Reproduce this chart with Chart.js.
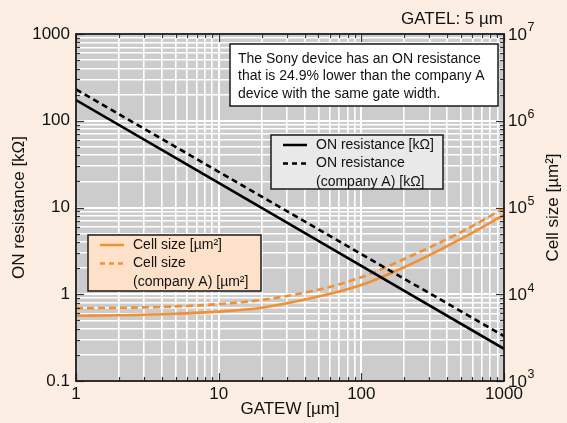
<!DOCTYPE html>
<html><head><meta charset="utf-8">
<script src="https://cdn.jsdelivr.net/npm/chart.js@4"></script>
<style>html,body{margin:0;padding:0;background:#fdeee3;} #wrap{width:567px;height:423px;position:relative;}</style>
</head><body><div id="wrap"><canvas id="c" width="567" height="423" style="width:567px;height:423px"></canvas></div>
<script>
// ---- data ----
const gateW = [1, 10, 100, 1000];
const onRes = [173, 19.2, 2.12, 0.235];
const onResA = [230, 25.8, 2.9, 0.33];
const cellW = [1, 2, 5, 10, 20, 50, 100, 200, 500, 1000];
const cellSize = [5650, 5720, 5950, 6300, 7000, 9400, 12800, 20500, 43500, 82000];
const cellSizeA = [6890, 6980, 7240, 7700, 8600, 11300, 15700, 25500, 52000, 98000];

const xTickValues = [1, 10, 100, 1000];
const xTickLabels = ['1', '10', '100', '1000'];
const leftTickValues = [0.1, 1, 10, 100, 1000];
const leftTickLabels = ['0.1', '1', '10', '100', '1000'];
const rightTickValues = [1e3, 1e4, 1e5, 1e6, 1e7];
const rightTickBase = '10';
const rightTickExps = ['3', '4', '5', '6', '7'];
const minorMults = [1, 2, 3, 4, 5, 6, 7, 8, 9];

const xTitle = 'GATEW [\u00B5m]';
const leftTitle = 'ON resistance [k\u03A9]';
const rightTitle = 'Cell size [\u00B5m\u00B2]';
const topNote = 'GATEL: 5 \u00B5m';
const noteLines = ['The Sony device has an ON resistance', 'that is 24.9% lower than the company A', 'device with the same gate width.'];
const blackLegend = [['ON resistance [k\u03A9]'], ['ON resistance', '(company A) [k\u03A9]']];
const orangeLegend = [['Cell size [\u00B5m\u00B2]'], ['Cell size', '(company A) [\u00B5m\u00B2]']];

const ORANGE = '#f39033';
const FONT = '"Liberation Sans", Arial, sans-serif';

function logTicks(majors) {
  const out = [];
  for (let i = 0; i < majors.length; i++) {
    if (i === majors.length - 1) { out.push(majors[i]); break; }
    for (const m of minorMults) out.push(majors[i] * m);
  }
  return out;
}
function isMajor(v, majors) { return majors.some(m => Math.abs(v / m - 1) < 1e-9); }
function labelFor(v, majors, labels) {
  const i = majors.findIndex(m => Math.abs(v / m - 1) < 1e-9);
  return i >= 0 ? labels[i] : '';
}

const bgPlugin = {
  id: 'bg',
  beforeDraw(chart) {
    const {ctx, chartArea: a} = chart;
    ctx.save();
    ctx.fillStyle = '#fdeee3';
    ctx.fillRect(0, 0, chart.width, chart.height);
    ctx.fillStyle = '#cccccc';
    ctx.fillRect(a.left, a.top, a.right - a.left, a.bottom - a.top);
    ctx.restore();
  }
};

function drawLegendBox(ctx, box, fill, entries, color, dash) {
  ctx.save();
  ctx.fillStyle = fill;
  ctx.fillRect(box.x, box.y, box.w, box.h);
  ctx.strokeStyle = '#1a1a1a';
  ctx.lineWidth = 1.5;
  ctx.strokeRect(box.x, box.y, box.w, box.h);
  ctx.font = '14px ' + FONT;
  ctx.fillStyle = '#111';
  ctx.textBaseline = 'middle';
  let y = box.y + 10;
  entries.forEach((lines, i) => {
    ctx.beginPath();
    ctx.strokeStyle = color;
    ctx.lineWidth = 2.5;
    ctx.setLineDash(dash[i]);
    ctx.moveTo(box.x + 12, y);
    ctx.lineTo(box.x + 36, y);
    ctx.stroke();
    ctx.setLineDash([]);
    lines.forEach(t => { ctx.fillText(t, box.x + 45, y); y += 18.5; });
  });
  ctx.restore();
}

const overlayPlugin = {
  id: 'overlay',
  afterDatasetsDraw(chart) {
    const {ctx, chartArea: a, scales} = chart;
    ctx.save();
    // inner ticks
    ctx.strokeStyle = '#333';
    ctx.lineWidth = 1.2;
    const xs = scales.x, yl = scales.y, yr = scales.y2;
    logTicks(xTickValues).forEach(v => {
      const px = Math.round(xs.getPixelForValue(v)) + 0.5;
      const len = isMajor(v, xTickValues) ? 8 : 4;
      ctx.beginPath();
      ctx.moveTo(px, a.top); ctx.lineTo(px, a.top + len);
      ctx.moveTo(px, a.bottom); ctx.lineTo(px, a.bottom - len);
      ctx.stroke();
    });
    logTicks(leftTickValues).forEach(v => {
      const py = Math.round(yl.getPixelForValue(v)) + 0.5;
      const len = isMajor(v, leftTickValues) ? 8 : 4;
      ctx.beginPath();
      ctx.moveTo(a.left, py); ctx.lineTo(a.left + len, py);
      ctx.stroke();
    });
    logTicks(rightTickValues).forEach(v => {
      const py = Math.round(yr.getPixelForValue(v)) + 0.5;
      const len = isMajor(v, rightTickValues) ? 8 : 4;
      ctx.beginPath();
      ctx.moveTo(a.right, py); ctx.lineTo(a.right - len, py);
      ctx.stroke();
    });
    // frame
    ctx.strokeStyle = '#1a1a1a';
    ctx.lineWidth = 1.8;
    ctx.strokeRect(a.left, a.top, a.right - a.left, a.bottom - a.top);

    // right tick labels with superscript exponents
    ctx.fillStyle = '#111';
    ctx.textAlign = 'left';
    ctx.textBaseline = 'middle';
    rightTickValues.forEach((v, i) => {
      const py = yr.getPixelForValue(v);
      ctx.font = '17px ' + FONT;
      ctx.fillText(rightTickBase, a.right + 4, py + 1);
      const w = ctx.measureText(rightTickBase).width;
      ctx.font = '12.5px ' + FONT;
      ctx.fillText(rightTickExps[i], a.right + 4 + w + 0.5, py - 6);
    });

    // annotation box
    ctx.fillStyle = '#ffffff';
    ctx.fillRect(230, 44, 268, 62);
    ctx.lineWidth = 1.5;
    ctx.strokeRect(230, 44, 268, 62);
    ctx.fillStyle = '#111';
    ctx.font = '14px ' + FONT;
    ctx.textBaseline = 'middle';
    noteLines.forEach((t, i) => ctx.fillText(t, 238, 59 + i * 17.5));

    drawLegendBox(ctx, {x: 271, y: 135, w: 172, h: 54}, '#e9e9e9', blackLegend, '#000', [[], [5, 4]]);
    drawLegendBox(ctx, {x: 88, y: 235, w: 173, h: 56}, '#fde2c9', orangeLegend, ORANGE, [[], [5, 4]]);

    // top note
    ctx.fillStyle = '#111';
    ctx.font = '17px ' + FONT;
    ctx.textAlign = 'right';
    ctx.textBaseline = 'middle';
    ctx.fillText(topNote, 503, 19);
    // right title
    ctx.translate(553, (a.top + a.bottom) / 2);
    ctx.rotate(-Math.PI / 2);
    ctx.textAlign = 'center';
    ctx.fillText(rightTitle, 0, 0);
    ctx.restore();
  }
};

const tickFont = {family: FONT, size: 17};

new Chart(document.getElementById('c'), {
  type: 'line',
  data: {
    datasets: [
      {label: 'ON resistance', data: gateW.map((w, i) => ({x: w, y: onRes[i]})), borderColor: '#000', borderWidth: 2.6, pointRadius: 0, yAxisID: 'y'},
      {label: 'ON resistance (company A)', data: gateW.map((w, i) => ({x: w, y: onResA[i]})), borderColor: '#000', borderWidth: 2.6, borderDash: [6, 4], pointRadius: 0, yAxisID: 'y'},
      {label: 'Cell size', data: cellW.map((w, i) => ({x: w, y: cellSize[i]})), borderColor: ORANGE, borderWidth: 2.6, pointRadius: 0, cubicInterpolationMode: 'monotone', yAxisID: 'y2'},
      {label: 'Cell size (company A)', data: cellW.map((w, i) => ({x: w, y: cellSizeA[i]})), borderColor: ORANGE, borderWidth: 2.6, borderDash: [7, 4], pointRadius: 0, cubicInterpolationMode: 'monotone', yAxisID: 'y2'}
    ]
  },
  options: {
    responsive: false,
    animation: false,
    devicePixelRatio: 1,
    layout: {padding: {top: 34, left: 0, right: 0, bottom: 0}},
    plugins: {legend: {display: false}, tooltip: {enabled: false}},
    scales: {
      x: {
        type: 'logarithmic', position: 'bottom', min: 1, max: 1000,
        afterBuildTicks: s => { s.ticks = logTicks(xTickValues).map(v => ({value: v})); },
        afterFit: s => { s.height = 42; },
        grid: {color: '#ffffff', lineWidth: c => (c.tick && isMajor(c.tick.value, xTickValues)) ? 2 : 1.6, drawTicks: false},
        border: {display: false},
        ticks: {autoSkip: false, maxRotation: 0, padding: 3, color: '#111', font: tickFont, callback: v => labelFor(v, xTickValues, xTickLabels)},
        title: {display: true, text: xTitle, color: '#111', font: tickFont, padding: {top: 0, bottom: 3}}
      },
      y: {
        type: 'logarithmic', position: 'left', min: 0.1, max: 1000,
        afterBuildTicks: s => { s.ticks = logTicks(leftTickValues).map(v => ({value: v})); },
        afterFit: s => { s.width = 76; },
        grid: {color: '#ffffff', lineWidth: c => (c.tick && isMajor(c.tick.value, leftTickValues)) ? 2 : 1.6, drawTicks: false},
        border: {display: false},
        ticks: {autoSkip: false, padding: 6, color: '#111', font: tickFont, callback: v => labelFor(v, leftTickValues, leftTickLabels)},
        title: {display: true, text: leftTitle, color: '#111', font: tickFont, padding: {top: 9, bottom: 0}}
      },
      y2: {
        type: 'logarithmic', position: 'right', min: 1e3, max: 1e7,
        afterBuildTicks: s => { s.ticks = logTicks(rightTickValues).map(v => ({value: v})); },
        afterFit: s => { s.width = 63; },
        grid: {drawOnChartArea: false, drawTicks: false},
        border: {display: false},
        ticks: {autoSkip: false, padding: 4, color: '#111', font: tickFont, callback: () => ''}
      }
    }
  },
  plugins: [bgPlugin, overlayPlugin]
});
</script></body></html>
